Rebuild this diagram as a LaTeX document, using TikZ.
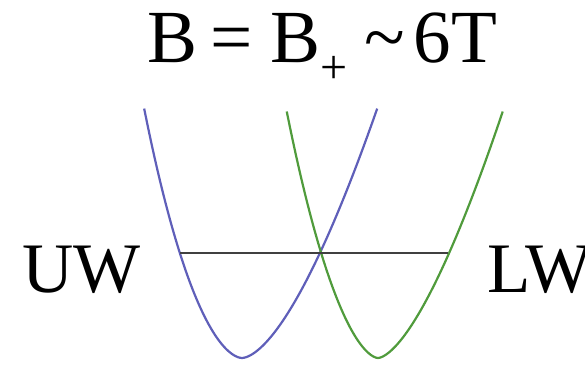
\documentclass[tikz,border=0pt]{standalone}
\usepackage{fontspec}
\setmainfont{Liberation Serif}
\begin{document}
\begin{tikzpicture}[x=1pt,y=-1pt,
  lbl/.style={inner sep=0pt,outer sep=0pt,anchor=base west,font=\fontsize{71}{80}\selectfont},
  ttl/.style={inner sep=0pt,outer sep=0pt,anchor=base west,font=\fontsize{75}{80}\selectfont},
  curveA/.style={draw={rgb,255:red,95;green,95;blue,185},line width=2.2pt},
  curveB/.style={draw={rgb,255:red,80;green,155;blue,60},line width=2.2pt}]
\useasboundingbox (0,0) rectangle (585,364);
\node[ttl] (title) at (147,62) {B\hspace{13pt}=\hspace{18pt}B\raisebox{-0.28em}{\fontsize{48}{48}\selectfont +}\hspace{17pt}\textasciitilde\hspace{9pt}6T};
\node[lbl] (uw) at (22,292) {UW};
\node[lbl] (lw) at (487,292) {LW};
\draw[curveA] plot[domain=-116.5:116.5,samples=121,smooth,variable=\t]
  ({242+\t+0.075*0.0766*pow(abs(\t)+0.001,1.7)},{358-0.0766*pow(abs(\t)+0.001,1.7)});
\draw[curveB] plot[domain=-108:108,samples=121,smooth,variable=\t]
  ({378+\t+0.068*0.1195*pow(abs(\t)+0.001,1.63)},{358-0.1195*pow(abs(\t)+0.001,1.63)});
\coordinate (l1) at (180,253);
\coordinate (l2) at (448,253);
\draw[line width=1.5pt,black!75] (l1) -- (l2);
\end{tikzpicture}
\end{document}
